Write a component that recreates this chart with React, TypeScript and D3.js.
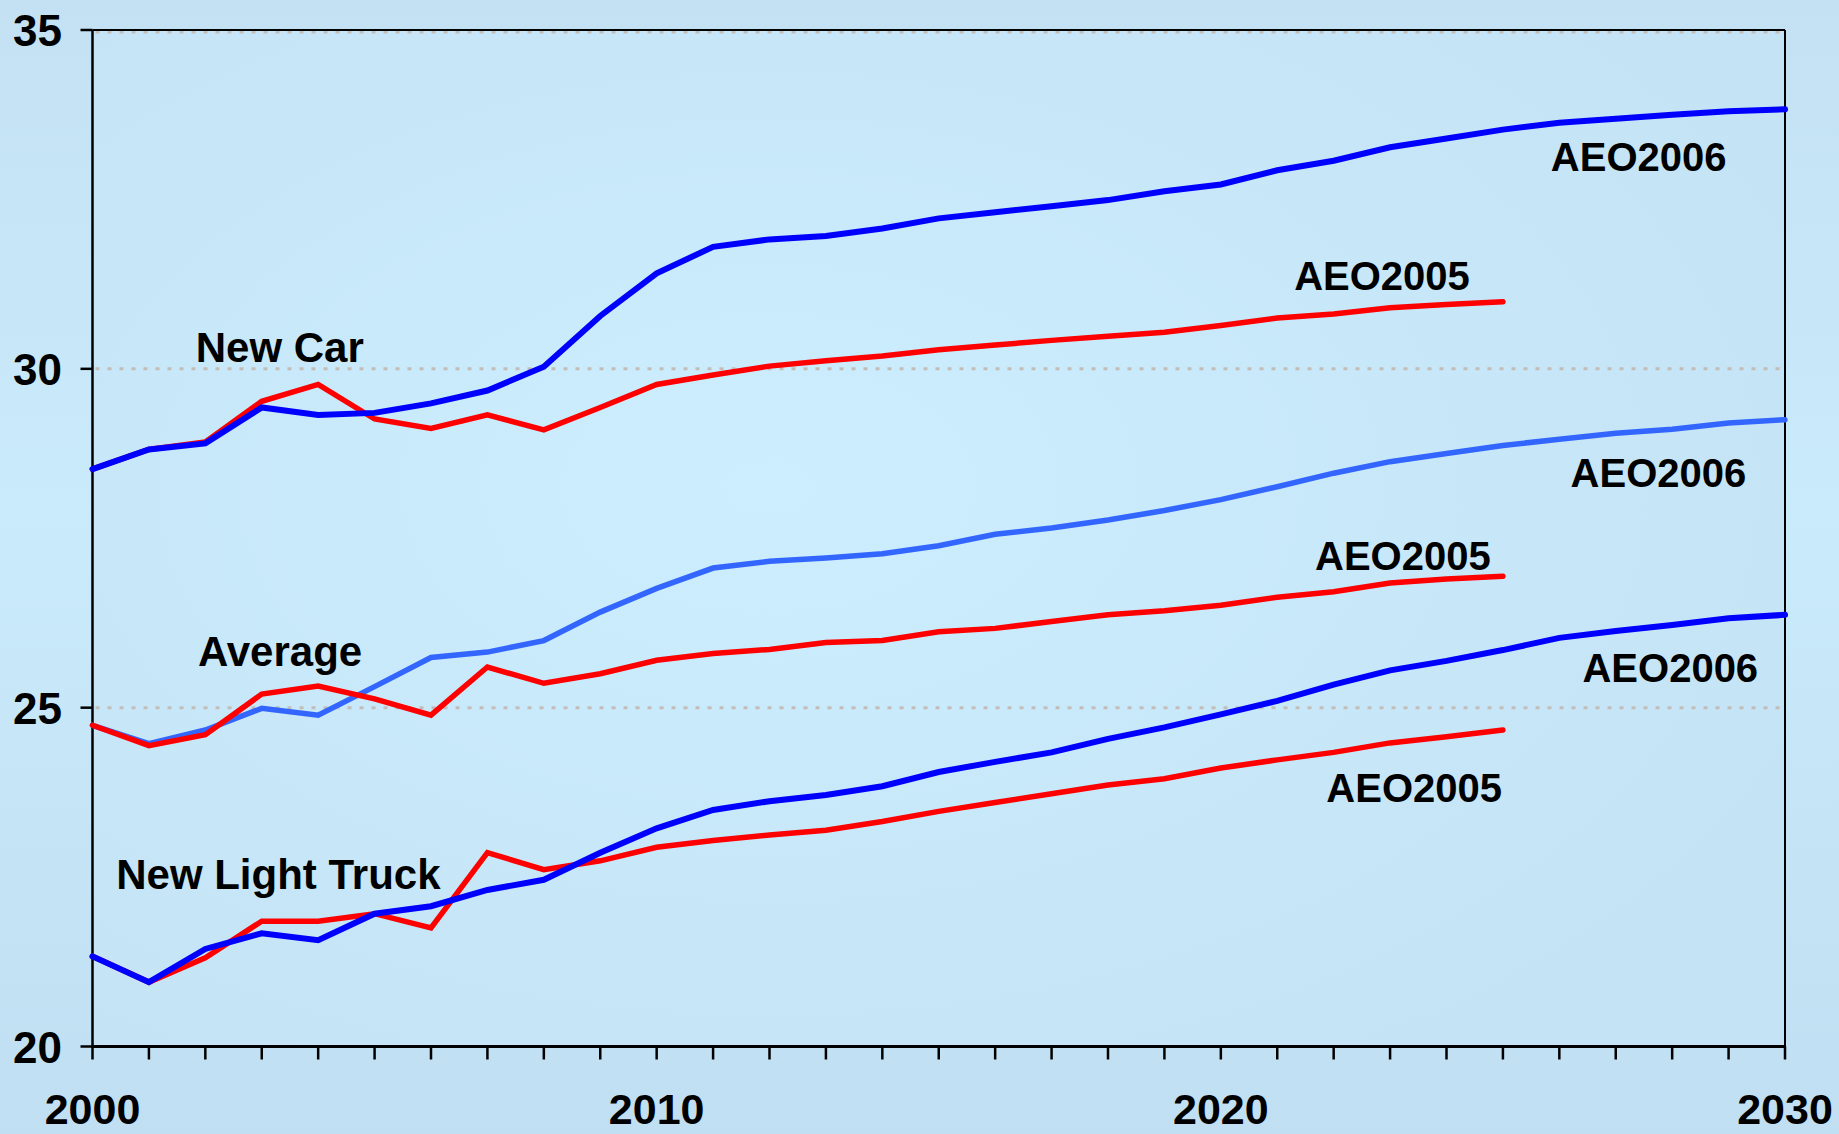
import React from "react";
import * as d3 from "d3";

const W = 1839;
const H = 1134;

const years2006 = d3.range(2000, 2031);
const years2005 = d3.range(2000, 2026);

const carAEO2006 = [28.52, 28.81, 28.9, 29.43, 29.32, 29.35, 29.49, 29.68, 30.03, 30.78, 31.41, 31.8, 31.91, 31.96, 32.07, 32.22, 32.31, 32.4, 32.49, 32.62, 32.72, 32.93, 33.07, 33.27, 33.4, 33.53, 33.63, 33.69, 33.75, 33.8, 33.83];
const carAEO2005 = [28.52, 28.81, 28.92, 29.52, 29.77, 29.26, 29.12, 29.32, 29.1, 29.43, 29.77, 29.91, 30.04, 30.12, 30.19, 30.28, 30.35, 30.42, 30.48, 30.54, 30.64, 30.75, 30.81, 30.9, 30.95, 30.99];
const avgAEO2006 = [24.74, 24.47, 24.67, 24.99, 24.89, 25.31, 25.74, 25.82, 25.99, 26.41, 26.76, 27.06, 27.16, 27.21, 27.27, 27.39, 27.56, 27.65, 27.77, 27.91, 28.07, 28.26, 28.46, 28.63, 28.75, 28.87, 28.96, 29.05, 29.11, 29.2, 29.25];
const avgAEO2005 = [24.74, 24.44, 24.6, 25.2, 25.32, 25.13, 24.89, 25.6, 25.36, 25.5, 25.7, 25.8, 25.86, 25.96, 25.99, 26.12, 26.17, 26.27, 26.37, 26.43, 26.51, 26.63, 26.71, 26.84, 26.9, 26.94];
const truckAEO2006 = [21.33, 20.95, 21.44, 21.67, 21.57, 21.96, 22.07, 22.31, 22.46, 22.86, 23.22, 23.49, 23.62, 23.71, 23.84, 24.05, 24.2, 24.34, 24.54, 24.71, 24.9, 25.1, 25.34, 25.55, 25.69, 25.85, 26.03, 26.13, 26.22, 26.32, 26.37];
const truckAEO2005 = [21.33, 20.95, 21.31, 21.85, 21.85, 21.96, 21.75, 22.86, 22.61, 22.74, 22.94, 23.04, 23.12, 23.19, 23.32, 23.47, 23.6, 23.73, 23.86, 23.95, 24.11, 24.23, 24.34, 24.48, 24.57, 24.67];

const yTicks = [20, 25, 30, 35];
const gridValues = [25, 30, 35];
const xLabelYears = [2000, 2010, 2020, 2030];

const groupLabels = [
  { text: "New Car", year: 2001.83, value: 30.1 },
  { text: "Average", year: 2001.87, value: 25.61 },
  { text: "New Light Truck", year: 2000.42, value: 22.32 },
];

const seriesLabels = [
  { text: "AEO2006", year: 2025.85, value: 32.92 },
  { text: "AEO2005", year: 2021.3, value: 31.16 },
  { text: "AEO2006", year: 2026.2, value: 28.26 },
  { text: "AEO2005", year: 2021.67, value: 27.03 },
  { text: "AEO2006", year: 2026.41, value: 25.38 },
  { text: "AEO2005", year: 2021.87, value: 23.61 },
];

const BLUE = "#0000FF";
const RED = "#FF0000";
const LIGHTBLUE = "#3366FF";

export default function App() {
  const left = 92.5;
  const right = 1785;
  const top = 30;
  const bottom = 1046.5;

  const x = d3.scaleLinear().domain([2000, 2030]).range([left, right]);
  const y = d3.scaleLinear().domain([20, 35]).range([bottom, top]);

  const line = d3
    .line<[number, number]>()
    .x((d) => x(d[0]))
    .y((d) => y(d[1]));

  const mk = (years: number[], vals: number[]) =>
    line(years.map((yr, i) => [yr, vals[i]] as [number, number])) || "";

  const series = [
    { d: mk(years2006, avgAEO2006), color: LIGHTBLUE, w: 5.5 },
    { d: mk(years2005, avgAEO2005), color: RED, w: 5.5 },
    { d: mk(years2005, carAEO2005), color: RED, w: 5.5 },
    { d: mk(years2006, carAEO2006), color: BLUE, w: 6 },
    { d: mk(years2005, truckAEO2005), color: RED, w: 5.5 },
    { d: mk(years2006, truckAEO2006), color: BLUE, w: 6 },
  ];

  const font = "'Liberation Sans', Arial, Helvetica, sans-serif";

  return (
    <div style={{ position: "fixed", left: 0, top: 0, width: W, height: H }}>
      <svg width={W} height={H} style={{ display: "block" }}>
        <defs>
          <linearGradient id="bg" x1="0" y1="0" x2="0" y2="1">
            <stop offset="0" stopColor="#C3E1F3" />
            <stop offset="0.45" stopColor="#CAEBFC" />
            <stop offset="1" stopColor="#C0DFF2" />
          </linearGradient>
          <radialGradient id="plotbg" cx="0.4" cy="0.45" r="0.7">
            <stop offset="0" stopColor="#CCEEFE" />
            <stop offset="1" stopColor="#C4E3F5" />
          </radialGradient>
        </defs>
        <rect x={0} y={0} width={W} height={H} fill="url(#bg)" />
        <rect x={left} y={top} width={right - left} height={bottom - top} fill="url(#plotbg)" />

        {gridValues.map((v) => (
          <line
            key={"g" + v}
            x1={left + 3}
            x2={right - 2}
            y1={y(v) + (v === 35 ? 2 : 0)}
            y2={y(v) + (v === 35 ? 2 : 0)}
            stroke="#C2BDB8"
            strokeWidth={3}
            strokeDasharray="4,8"
          />
        ))}

        {/* frame */}
        <line x1={left} x2={right} y1={top} y2={top} stroke="#000" strokeWidth={2} />
        <line x1={right} x2={right} y1={top} y2={bottom} stroke="#000" strokeWidth={2} />
        <line x1={left} x2={left} y1={top} y2={bottom} stroke="#000" strokeWidth={2.5} />
        <line x1={left - 1} x2={right + 1} y1={bottom} y2={bottom} stroke="#000" strokeWidth={3} />

        {/* y ticks */}
        {yTicks.map((v) => (
          <g key={"yt" + v}>
            <line x1={left - 12} x2={left} y1={y(v)} y2={y(v)} stroke="#000" strokeWidth={2.5} />
            <text
              x={62}
              y={y(v) + 16}
              textAnchor="end"
              fontFamily={font}
              fontWeight="bold"
              fontSize={44}
              fill="#000"
            >
              {v}
            </text>
          </g>
        ))}

        {/* x ticks */}
        {years2006.map((yr) => (
          <line
            key={"xt" + yr}
            x1={x(yr)}
            x2={x(yr)}
            y1={bottom}
            y2={bottom + 13}
            stroke="#000"
            strokeWidth={2.5}
          />
        ))}
        {xLabelYears.map((yr) => (
          <text
            key={"xl" + yr}
            x={x(yr)}
            y={1124}
            textAnchor="middle"
            fontFamily={font}
            fontWeight="bold"
            fontSize={43}
            fill="#000"
          >
            {yr}
          </text>
        ))}

        {/* series */}
        {series.map((s, i) => (
          <path
            key={"s" + i}
            d={s.d}
            fill="none"
            stroke={s.color}
            strokeWidth={s.w}
            strokeLinejoin="miter"
            strokeLinecap="round"
          />
        ))}

        {groupLabels.map((l, i) => (
          <text
            key={"gl" + i}
            x={x(l.year)}
            y={y(l.value)}
            fontFamily={font}
            fontWeight="bold"
            fontSize={42}
            fill="#000"
          >
            {l.text}
          </text>
        ))}
        {seriesLabels.map((l, i) => (
          <text
            key={"sl" + i}
            x={x(l.year)}
            y={y(l.value)}
            fontFamily={font}
            fontWeight="bold"
            fontSize={40}
            fill="#000"
          >
            {l.text}
          </text>
        ))}
      </svg>
    </div>
  );
}
